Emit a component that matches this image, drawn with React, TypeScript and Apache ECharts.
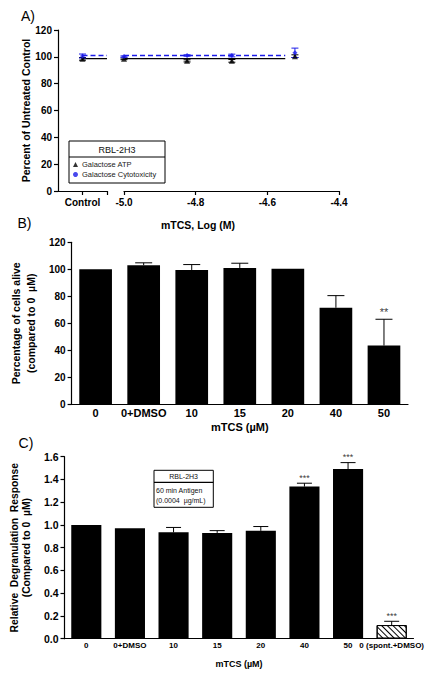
import React, { useEffect, useRef } from "react";
import * as echarts from "echarts";

const FONT = "'Liberation Sans', Arial, Helvetica, sans-serif";
const BLUE = "#1c1ce8";
const BLACK = "#000";

// ---------- Panel A : viability vs log concentration ----------
const aControlPos = 1; // x position of the "Control" point on the broken-axis segment
const aControlSegment = [0, 2];
const aLogConc = [-5.0, -4.824, -4.699, -4.523];
const aAtp = [98.5, 97, 97, 100.5];
const aAtpErr = [0.6, 0.8, 1.0, 1.0];
const aCyto = [100.2, 101, 101, 103];
const aCytoErr = [0.5, 0.5, 1.0, 3.5];
const aAtpControl = 98.5;
const aAtpControlErr = 1.0;
const aCytoControl = 100.6;
const aCytoControlErr = 1.5;
const aAtpFit = 98.7;
const aCytoFit = 101.0;
const aFitLogRange = [-5.0, -4.55];
const aControlFitRange = [1, 2];
const aLogTicks = [-5.0, -4.4, 0.2]; // min, max, interval

// ---------- Panel B : cell viability ----------
const bCategories = ["0", "0+DMSO", "10", "15", "20", "40", "50"];
const bValues = [100, 103, 99.5, 101, 100.5, 71.5, 43.5];
const bErr = [0, 1.8, 4, 3.5, 0, 9, 19.5];
const bStars = ["", "", "", "", "", "", "**"];

// ---------- Panel C : degranulation ----------
const cCategories = ["0", "0+DMSO", "10", "15", "20", "40", "50", "0 (spont.+DMSO)"];
const cValues = [1.0, 0.97, 0.935, 0.93, 0.948, 1.337, 1.492, 0.12];
const cErr = [0, 0, 0.043, 0.02, 0.038, 0.03, 0.056, 0.033];
const cStars = ["", "", "", "", "", "***", "***", "***"];

type EBOpts = { cap: number; color: string; both: boolean };

const errorBars = (errs: number[], o: EBOpts) => (params: any, api: any) => {
  const i = params.dataIndex;
  const x = api.value(0);
  const y = api.value(1);
  const e = errs[i] || 0;
  const children: any[] = [];
  const top = api.coord([x, y + e]);
  const bottom = api.coord([x, o.both ? y - e : y]);
  const ls = { stroke: o.color, lineWidth: 1 };
  if (e > 0) {
    children.push({ type: "line", shape: { x1: top[0], y1: top[1], x2: bottom[0], y2: bottom[1] }, style: ls });
    children.push({ type: "line", shape: { x1: top[0] - o.cap, y1: top[1], x2: top[0] + o.cap, y2: top[1] }, style: ls });
    if (o.both) {
      children.push({ type: "line", shape: { x1: bottom[0] - o.cap, y1: bottom[1], x2: bottom[0] + o.cap, y2: bottom[1] }, style: ls });
    }
  }
  return { type: "group", children };
};

const starSeries = (
  values: number[],
  errs: number[],
  stars: string[],
  xAxisIndex: number,
  yAxisIndex: number,
  fontSize: number,
  offsetY: number
) => ({
  name: "significance",
  type: "scatter",
  xAxisIndex,
  yAxisIndex,
  silent: true,
  symbolSize: 1,
  itemStyle: { color: "rgba(0,0,0,0)" },
  data: values.map((v, i) => [i, v + errs[i]]),
  label: {
    show: true,
    position: "top",
    distance: 0,
    offset: [0, offsetY],
    color: "#000000",
    fontFamily: FONT,
    fontSize,
    formatter: (p: any) => stars[p.dataIndex] || "",
  },
  z: 6,
});

const axisLine = { show: true, lineStyle: { color: BLACK, width: 1.2 } };
const yTick = { show: true, inside: false, length: 4, lineStyle: { color: BLACK, width: 1.2 } };
const yLabel = (size: number, fmt?: (v: number) => string) => ({
  fontFamily: FONT,
  fontWeight: "bold" as const,
  fontSize: size,
  color: BLACK,
  margin: 6,
  formatter: fmt,
});

export default function App() {
  const ref = useRef<HTMLDivElement>(null);

  useEffect(() => {
    document.body.style.margin = "0";
    if (!ref.current) return;
    const chart = echarts.init(ref.current, null, { renderer: "svg" });

    const option: any = {
      animation: false,
      backgroundColor: "#fff",
      grid: [
        { left: 58, top: 30, width: 49, height: 161 },
        { left: 124, top: 30, width: 215, height: 161 },
        { left: 58, top: 242.3, width: 350, height: 162 },
        { left: 58.5, top: 456.7, width: 355, height: 182 },
      ],
      legend: {
        data: [
          { name: "Galactose ATP", icon: "triangle", itemStyle: { color: BLACK } },
          { name: "Galactose Cytotoxicity", icon: "circle", itemStyle: { color: BLUE } },
        ],
        orient: "vertical",
        left: 73,
        top: 160,
        itemWidth: 5,
        itemHeight: 5,
        itemGap: 1,
        selectedMode: false,
        textStyle: { fontFamily: FONT, fontSize: 7.5, color: "#222", lineHeight: 9, padding: [0, 0, 0, -1] },
        padding: 0,
        z: 10,
      },
      xAxis: [
        {
          gridIndex: 0,
          type: "value",
          min: aControlSegment[0],
          max: aControlSegment[1],
          interval: 1,
          axisLine,
          axisTick: { show: true, length: 4, lineStyle: { color: BLACK, width: 1.2 }, customValues: [1, 2] },
          axisLabel: {
            fontFamily: FONT,
            fontWeight: "bold",
            fontSize: 10,
            color: BLACK,
            margin: 6,
            customValues: [aControlPos],
            formatter: () => "Control",
          },
          splitLine: { show: false },
        },
        {
          gridIndex: 1,
          type: "value",
          min: aLogTicks[0],
          max: aLogTicks[1],
          interval: aLogTicks[2],
          axisLine,
          axisTick: { show: true, length: 4, lineStyle: { color: BLACK, width: 1.2 } },
          axisLabel: {
            fontFamily: FONT,
            fontWeight: "bold",
            fontSize: 10,
            color: BLACK,
            margin: 6,
            formatter: (v: number) => v.toFixed(1),
          },
          splitLine: { show: false },
        },
        {
          gridIndex: 2,
          type: "category",
          data: bCategories,
          axisLine,
          axisTick: { show: false },
          axisLabel: { fontFamily: FONT, fontWeight: "bold", fontSize: 11, color: BLACK, margin: 3, interval: 0 },
          name: "mTCS (\u00b5M)",
          nameLocation: "middle",
          nameGap: 17,
          nameTextStyle: { fontFamily: FONT, fontWeight: "bold", fontSize: 11, color: BLACK },
        },
        {
          gridIndex: 3,
          type: "category",
          data: cCategories,
          axisLine,
          axisTick: { show: false },
          axisLabel: { fontFamily: FONT, fontWeight: "bold", fontSize: 8, color: BLACK, margin: 3, interval: 0 },
          name: "mTCS (\u00b5M)",
          nameLocation: "middle",
          nameGap: 21,
          nameTextStyle: { fontFamily: FONT, fontWeight: "bold", fontSize: 9, color: BLACK },
        },
      ],
      yAxis: [
        {
          gridIndex: 0,
          type: "value",
          min: 0,
          max: 120,
          interval: 20,
          axisLine,
          axisTick: yTick,
          axisLabel: yLabel(10),
          splitLine: { show: false },
          name: "Percent of Untreated Control",
          nameLocation: "middle",
          nameGap: 24,
          nameTextStyle: { fontFamily: FONT, fontWeight: "bold", fontSize: 10.5, color: BLACK },
        },
        {
          gridIndex: 1,
          type: "value",
          min: 0,
          max: 120,
          interval: 20,
          show: false,
        },
        {
          gridIndex: 2,
          type: "value",
          min: 0,
          max: 120,
          interval: 20,
          axisLine,
          axisTick: yTick,
          axisLabel: yLabel(10),
          splitLine: { show: false },
          name: "Percentage of cells alive\n(compared to 0  \u00b5M)",
          nameLocation: "middle",
          nameGap: 21,
          nameTextStyle: { fontFamily: FONT, fontWeight: "bold", fontSize: 10.5, color: BLACK, lineHeight: 15 },
        },
        {
          gridIndex: 3,
          type: "value",
          min: 0,
          max: 1.6,
          interval: 0.2,
          axisLine,
          axisTick: yTick,
          axisLabel: yLabel(10.5, (v: number) => v.toFixed(1)),
          splitLine: { show: false },
          name: "Relative  Degranulation  Response\n(Compared to 0  \u00b5M)",
          nameLocation: "middle",
          nameGap: 21,
          nameTextStyle: { fontFamily: FONT, fontWeight: "bold", fontSize: 10.3, color: BLACK, lineHeight: 12.5 },
        },
      ],
      series: [
        // ----- Panel A legend-defining scatter series (control segment) -----
        {
          name: "Galactose ATP",
          type: "scatter",
          xAxisIndex: 0,
          yAxisIndex: 0,
          symbol: "triangle",
          symbolSize: 6,
          itemStyle: { color: BLACK },
          data: [[aControlPos, aAtpControl]],
          z: 5,
        },
        {
          name: "Galactose Cytotoxicity",
          type: "scatter",
          xAxisIndex: 0,
          yAxisIndex: 0,
          symbol: "diamond",
          symbolSize: 5,
          itemStyle: { color: BLUE },
          data: [[aControlPos, aCytoControl]],
          z: 5,
        },
        {
          name: "ATP fit control",
          type: "line",
          xAxisIndex: 0,
          yAxisIndex: 0,
          symbol: "none",
          lineStyle: { color: BLACK, width: 1.3 },
          data: aControlFitRange.map((x) => [x, aAtpFit]),
          z: 3,
        },
        {
          name: "Cyto fit control",
          type: "line",
          xAxisIndex: 0,
          yAxisIndex: 0,
          symbol: "none",
          lineStyle: { color: BLUE, width: 1.5, type: [5, 3] },
          data: aControlFitRange.map((x) => [x, aCytoFit]),
          z: 4,
        },
        {
          name: "ATP err control",
          type: "custom",
          xAxisIndex: 0,
          yAxisIndex: 0,
          silent: true,
          itemStyle: { color: BLACK },
          data: [[aControlPos, aAtpControl]],
          renderItem: errorBars([aAtpControlErr], { cap: 3.5, color: BLACK, both: true }),
          z: 4,
        },
        {
          name: "Cyto err control",
          type: "custom",
          xAxisIndex: 0,
          yAxisIndex: 0,
          silent: true,
          itemStyle: { color: BLUE },
          data: [[aControlPos, aCytoControl]],
          renderItem: errorBars([aCytoControlErr], { cap: 3.5, color: BLUE, both: true }),
          z: 4,
        },
        // ----- Panel A main segment -----
        {
          name: "ATP fit",
          type: "line",
          xAxisIndex: 1,
          yAxisIndex: 1,
          symbol: "none",
          lineStyle: { color: BLACK, width: 1.3 },
          data: aFitLogRange.map((x) => [x, aAtpFit]),
          z: 3,
        },
        {
          name: "Cyto fit",
          type: "line",
          xAxisIndex: 1,
          yAxisIndex: 1,
          symbol: "none",
          lineStyle: { color: BLUE, width: 1.5, type: [5, 3] },
          data: aFitLogRange.map((x) => [x, aCytoFit]),
          z: 4,
        },
        {
          name: "ATP err",
          type: "custom",
          xAxisIndex: 1,
          yAxisIndex: 1,
          silent: true,
          itemStyle: { color: BLACK },
          data: aLogConc.map((x, i) => [x, aAtp[i]]),
          renderItem: errorBars(aAtpErr, { cap: 3.5, color: BLACK, both: true }),
          z: 4,
        },
        {
          name: "Cyto err",
          type: "custom",
          xAxisIndex: 1,
          yAxisIndex: 1,
          silent: true,
          itemStyle: { color: BLUE },
          data: aLogConc.map((x, i) => [x, aCyto[i]]),
          renderItem: errorBars(aCytoErr, { cap: 3.5, color: BLUE, both: true }),
          z: 4,
        },
        {
          name: "Galactose ATP",
          type: "scatter",
          xAxisIndex: 1,
          yAxisIndex: 1,
          symbol: "triangle",
          symbolSize: 6,
          itemStyle: { color: BLACK },
          data: aLogConc.map((x, i) => [x, aAtp[i]]),
          z: 5,
        },
        {
          name: "Galactose Cytotoxicity",
          type: "scatter",
          xAxisIndex: 1,
          yAxisIndex: 1,
          symbol: "diamond",
          symbolSize: 5,
          itemStyle: { color: BLUE },
          data: aLogConc.map((x, i) => [x, aCyto[i]]),
          z: 5,
        },
        // ----- Panel B -----
        {
          name: "Viability",
          type: "bar",
          xAxisIndex: 2,
          yAxisIndex: 2,
          barWidth: "68%",
          itemStyle: { color: BLACK },
          data: bValues,
          z: 2,
        },
        {
          name: "Viability err",
          type: "custom",
          xAxisIndex: 2,
          yAxisIndex: 2,
          silent: true,
          itemStyle: { color: BLACK },
          data: bValues.map((v, i) => [i, v]),
          renderItem: errorBars(bErr, { cap: 8.5, color: BLACK, both: false }),
          z: 3,
        },
        starSeries(bValues, bErr, bStars, 2, 2, 11, -1.5),
        // ----- Panel C -----
        {
          name: "Degranulation",
          type: "bar",
          xAxisIndex: 3,
          yAxisIndex: 3,
          barWidth: "69%",
          itemStyle: { color: BLACK },
          data: cValues.map((v, i) =>
            i === cValues.length - 1
              ? {
                  value: v,
                  itemStyle: {
                    color: "#fff",
                    borderColor: BLACK,
                    borderWidth: 1,
                    decal: {
                      symbol: "rect",
                      symbolSize: 1,
                      dashArrayX: [[1, 0]],
                      dashArrayY: [1, 3],
                      rotation: Math.PI / 4,
                      color: BLACK,
                    },
                  },
                }
              : v
          ),
          z: 2,
        },
        {
          name: "Degranulation err",
          type: "custom",
          xAxisIndex: 3,
          yAxisIndex: 3,
          silent: true,
          itemStyle: { color: BLACK },
          data: cValues.map((v, i) => [i, v]),
          renderItem: errorBars(cErr, { cap: 7.5, color: BLACK, both: false }),
          z: 3,
        },
        starSeries(cValues, cErr, cStars, 3, 3, 9, -0.5),
      ],
      graphic: [
        { type: "text", x: 28, y: 16, style: { text: "A)", font: `14px ${FONT}`, fill: BLACK, textAlign: "center", textVerticalAlign: "middle" } },
        { type: "text", x: 24.5, y: 223, style: { text: "B)", font: `14px ${FONT}`, fill: BLACK, textAlign: "center", textVerticalAlign: "middle" } },
        { type: "text", x: 26, y: 443, style: { text: "C)", font: `14px ${FONT}`, fill: BLACK, textAlign: "center", textVerticalAlign: "middle" } },
        {
          type: "text",
          x: 198,
          y: 225,
          style: { text: "mTCS, Log (M)", font: `bold 10.5px ${FONT}`, fill: BLACK, textAlign: "center", textVerticalAlign: "middle" },
        },
        // Panel A legend box
        {
          type: "group",
          z: 1,
          children: [
            { type: "rect", shape: { x: 69, y: 141, width: 96, height: 42 }, style: { fill: "#fff", stroke: BLACK, lineWidth: 1 } },
            { type: "line", shape: { x1: 69, y1: 157, x2: 165, y2: 157 }, style: { stroke: BLACK, lineWidth: 1 } },
            {
              type: "text",
              x: 117,
              y: 149.5,
              style: { text: "RBL-2H3", font: `9px ${FONT}`, fill: "#111", textAlign: "center", textVerticalAlign: "middle" },
            },
          ],
        },
        // Panel C inset box
        {
          type: "group",
          z: 1,
          children: [
            { type: "rect", shape: { x: 154, y: 470.3, width: 59.3, height: 37 }, style: { fill: "#fff", stroke: BLACK, lineWidth: 1 } },
            { type: "line", shape: { x1: 154, y1: 482.3, x2: 213.3, y2: 482.3 }, style: { stroke: BLACK, lineWidth: 1.2 } },
            {
              type: "text",
              x: 183.6,
              y: 476.5,
              style: { text: "RBL-2H3", font: `7px ${FONT}`, fill: "#111", textAlign: "center", textVerticalAlign: "middle" },
            },
            {
              type: "text",
              x: 156,
              y: 490.5,
              style: { text: "60 min Antigen", font: `7px ${FONT}`, fill: "#111", textAlign: "left", textVerticalAlign: "middle" },
            },
            {
              type: "text",
              x: 156,
              y: 500,
              style: { text: "(0.0004  \u00b5g/mL)", font: `7px ${FONT}`, fill: "#111", textAlign: "left", textVerticalAlign: "middle" },
            },
          ],
        },
      ],
    };

    chart.setOption(option);
    return () => chart.dispose();
  }, []);

  return <div ref={ref} style={{ width: 445, height: 678 }} />;
}
